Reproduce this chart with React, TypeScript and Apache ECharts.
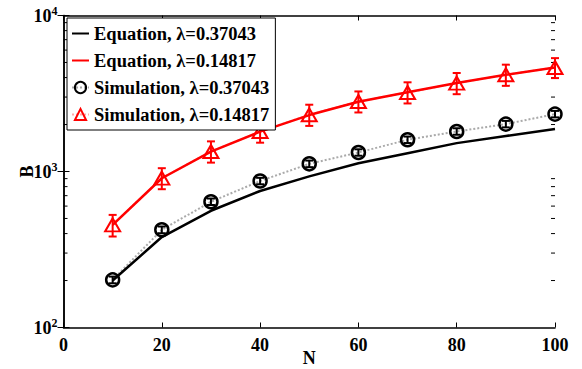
import React, { useEffect, useRef } from "react";
import * as echarts from "echarts";

const N = [10, 20, 30, 40, 50, 60, 70, 80, 90, 100];
const eq037 = [200, 380, 560, 750, 930, 1130, 1310, 1520, 1690, 1870];
const eq014 = [455, 905, 1340, 1800, 2300, 2800, 3220, 3690, 4170, 4640];
const sim037 = [202, 423, 640, 869, 1120, 1324, 1597, 1805, 2013, 2333];
const sim037Lo = [192, 402, 610, 828, 1066, 1262, 1522, 1720, 1918, 2223];
const sim037Hi = [212, 444, 671, 911, 1175, 1388, 1675, 1893, 2111, 2446];
const sim014 = [455, 907, 1343, 1805, 2309, 2810, 3210, 3688, 4168, 4642];
const sim014Lo = [383, 770, 1140, 1530, 1960, 2390, 2730, 3130, 3540, 3970];
const sim014Hi = [527, 1050, 1560, 2090, 2680, 3260, 3730, 4280, 4840, 5330];
const minorTickValues = [200, 300, 400, 500, 600, 700, 800, 900, 2000, 3000, 4000, 5000, 6000, 7000, 8000, 9000];
const names = [
  "Equation, λ=0.37043",
  "Equation, λ=0.14817",
  "Simulation, λ=0.37043",
  "Simulation, λ=0.14817",
];

const FONT = "Liberation Serif";

function errorBars(name: string, lo: number[], hi: number[], color: string, cap: number) {
  return {
    type: "custom",
    name: name + " err",
    data: N.map((n, i) => [n, lo[i], hi[i]]),
    encode: { x: 0, y: [1, 2] },
    silent: true,
    z: 4,
    renderItem: (params: any, api: any) => {
      const x = api.value(0);
      const a = api.coord([x, api.value(1)]);
      const b = api.coord([x, api.value(2)]);
      const st = { stroke: color, lineWidth: 2 };
      return {
        type: "group",
        children: [
          { type: "line", shape: { x1: a[0], y1: a[1], x2: b[0], y2: b[1] }, style: st },
          { type: "line", shape: { x1: a[0] - cap, y1: a[1], x2: a[0] + cap, y2: a[1] }, style: st },
          { type: "line", shape: { x1: b[0] - cap, y1: b[1], x2: b[0] + cap, y2: b[1] }, style: st },
        ],
      };
    },
  };
}

export default function App() {
  const ref = useRef<HTMLDivElement>(null);
  useEffect(() => {
    document.body.style.margin = "0";
    const chart = echarts.init(ref.current!, null, { renderer: "svg" });
    const labelRich = {
      b: { fontFamily: FONT, fontWeight: "bold", fontSize: 18, color: "#000" },
      s: { fontFamily: FONT, fontWeight: "bold", fontSize: 12, color: "#000", verticalAlign: "top", padding: [0, 0, 10, 0] },
    };
    chart.setOption({
      animation: false,
      grid: { left: 63.5, right: 27, top: 15.5, bottom: 41.5, containLabel: false, outerBoundsMode: "none" },
      legend: {
        data: names,
        orient: "vertical",
        left: 67,
        top: 18,
        backgroundColor: "#fff",
        borderColor: "#000",
        borderWidth: 1,
        borderRadius: 0,
        padding: [6, 6, 6, 4],
        itemWidth: 17,
        itemHeight: 14,
        itemGap: 8,
        textStyle: { fontFamily: FONT, fontWeight: "bold", fontSize: 18.5, color: "#000" },
        z: 10,
      },
      xAxis: [
        {
          type: "value",
          min: 0,
          max: 100,
          interval: 20,
          name: "N",
          nameLocation: "middle",
          nameGap: 21,
          nameMoveOverlap: false,
          nameTextStyle: { fontFamily: FONT, fontWeight: "bold", fontSize: 18, color: "#000" },
          axisLine: { show: true, lineStyle: { color: "#000", width: 1.5 } },
          axisTick: { show: true, inside: true, length: 5, lineStyle: { color: "#000", width: 1 } },
          axisLabel: { fontFamily: FONT, fontWeight: "bold", fontSize: 18, color: "#000", margin: 8 },
          splitLine: { show: false },
        },
        {
          type: "value",
          position: "top",
          min: 0,
          max: 100,
          interval: 20,
          axisLine: { show: true, lineStyle: { color: "#000", width: 1.5 } },
          axisTick: { show: true, inside: true, length: 5, lineStyle: { color: "#000", width: 1 } },
          axisLabel: { show: false },
          splitLine: { show: false },
        },
      ],
      yAxis: [
        {
          type: "log",
          logBase: 10,
          min: 100,
          max: 10000,
          name: "B",
          nameLocation: "middle",
          nameGap: 28,
          nameMoveOverlap: false,
          nameRotate: 90,
          nameTextStyle: { fontFamily: FONT, fontWeight: "bold", fontSize: 18, color: "#000" },
          axisLine: { show: true, lineStyle: { color: "#000", width: 1.5 } },
          axisTick: { show: true, inside: true, length: 6, lineStyle: { color: "#000", width: 1 } },
          axisLabel: {
            margin: 6,
            formatter: (v: number) => "{b|10}{s|" + Math.round(Math.log10(v)) + "}",
            rich: labelRich,
          },
          splitLine: { show: false },
        },
        {
          type: "log",
          logBase: 10,
          min: 100,
          max: 10000,
          position: "right",
          axisLine: { show: true, lineStyle: { color: "#000", width: 1.5 } },
          axisTick: { show: true, inside: true, length: 6, lineStyle: { color: "#000", width: 1 } },
          axisLabel: { show: false },
          splitLine: { show: false },
        },
      ],
      series: [
        {
          type: "custom",
          name: "minor ticks",
          data: minorTickValues.map((v) => [0, v]),
          encode: { x: 0, y: 1 },
          silent: true,
          clip: false,
          renderItem: (params: any, api: any) => {
            const v = api.value(1);
            const l = api.coord([0, v]);
            const r = api.coord([100, v]);
            const st = { stroke: "#000", lineWidth: 1 };
            return {
              type: "group",
              children: [
                { type: "line", shape: { x1: l[0], y1: l[1], x2: l[0] + 4, y2: l[1] }, style: st },
                { type: "line", shape: { x1: r[0], y1: r[1], x2: r[0] - 4, y2: r[1] }, style: st },
              ],
            };
          },
        },
        {
          type: "line",
          name: names[0],
          data: N.map((n, i) => [n, eq037[i]]),
          symbol: "circle",
          showSymbol: false,
          lineStyle: { color: "#000", width: 2.5 },
          itemStyle: { color: "rgba(0,0,0,0)" },
          z: 3,
        },
        {
          type: "line",
          name: names[1],
          data: N.map((n, i) => [n, eq014[i]]),
          symbol: "circle",
          showSymbol: false,
          lineStyle: { color: "#ff0000", width: 2.5 },
          itemStyle: { color: "rgba(0,0,0,0)" },
          z: 3,
        },
        {
          type: "line",
          name: names[2],
          data: N.map((n, i) => [n, sim037[i]]),
          symbol: "circle",
          symbolSize: 13,
          lineStyle: { color: "#aaaaaa", width: 2, type: "dotted" },
          itemStyle: { color: "rgba(255,255,255,0)", borderColor: "#000", borderWidth: 2.5 },
          z: 2,
        },
        {
          type: "line",
          name: names[3],
          data: N.map((n, i) => [n, sim014[i]]),
          symbol: "triangle",
          symbolSize: [15, 13],
          lineStyle: { color: "#ffaaaa", width: 2, type: "dotted" },
          itemStyle: { color: "rgba(255,255,255,0)", borderColor: "#ff0000", borderWidth: 2 },
          z: 2,
        },
        errorBars(names[2], sim037Lo, sim037Hi, "#000", 4),
        errorBars(names[3], sim014Lo, sim014Hi, "#ff0000", 4),
      ],
    });
    return () => chart.dispose();
  }, []);
  return <div ref={ref} style={{ width: 582, height: 369 }} />;
}
